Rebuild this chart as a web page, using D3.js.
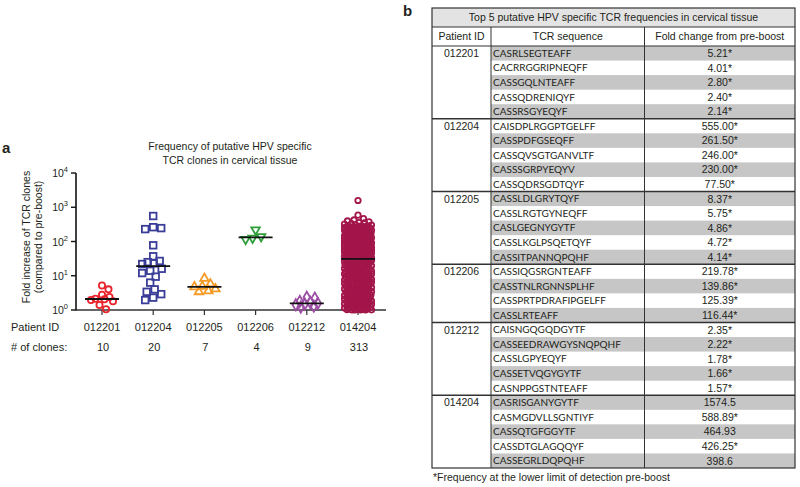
<!DOCTYPE html>
<html><head><meta charset="utf-8">
<script src="https://cdn.jsdelivr.net/npm/d3@7"></script>
<style>
body{margin:0;background:#fff;}
svg{display:block;font-family:"Liberation Sans",Arial,Helvetica,sans-serif;}
</style>
</head><body>
<svg id="c" width="800" height="487"></svg>
<script>
// ---------------- DATA ----------------
const patientIds = ["012201","012204","012205","012206","012212","014204"];
const cloneCounts = [10, 20, 7, 4, 9, 313];
const yTickExps = [0, 1, 2, 3, 4];

const vals012201 = [5.21, 4.01, 2.80, 2.40, 2.14, 2.05, 1.95, 1.8, 1.4, 1.05];
const vals012204 = [555, 261.5, 246, 230, 77.5, 37, 27, 25, 23, 22, 16, 14, 12, 9.4, 6.3, 4.0, 3.4, 2.9, 2.3, 1.95];
const vals012205 = [8.37, 5.75, 4.86, 4.72, 4.14, 3.6, 3.4];
const vals012206 = [219.78, 139.86, 125.39, 116.44];
const vals012212 = [2.35, 2.22, 1.78, 1.66, 1.57, 1.5, 1.42, 1.3, 1.22];
const vals014204 = [
  1574.5, 588.89, 464.93, 426.25, 398.6,
  376, 358, 349, 331, 324, 306, 301, 288, 286, 279,
  268, 266, 252, 254, 249, 243, 235, 232, 227, 221,
  219, 212, 211, 204, 203, 197, 195, 189, 188, 182,
  181, 176, 176, 170, 168, 163, 162, 159, 157, 153,
  151, 148, 146, 143, 141, 140, 136, 135, 132, 129,
  127, 126, 123, 120, 119, 118, 115, 112, 111, 108,
  107, 106, 104, 101, 100, 99, 97, 96, 94, 92,
  91, 90, 88, 87, 85, 84, 83, 81, 80, 79,
  78, 77, 75, 74, 73, 72, 71, 70, 69, 67.5,
  66.6, 65.2, 64.5, 63.8, 62.4, 61.6, 60.3, 59.7, 58.5, 57.9,
  57.1, 56, 55.2, 54.6, 53.5, 52.4, 51.9, 51.2, 50.3, 49.4,
  48.8, 48.1, 47.2, 46.6, 45.7, 45.2, 44.6, 43.8, 43.3, 42.5,
  41.7, 41.3, 40.6, 40.1, 39.3, 38.9, 38.2, 37.7, 37.1, 36.4,
  36.1, 35.5, 34.8, 34.5, 33.8, 33.4, 32.9, 32.3, 31.9, 31.6,
  286, 249, 214, 175, 144, 117, 95, 82, 71, 60, 31.3,
  31.0,
  30.5, 29.6, 29.2, 28.4, 27.9, 27.1, 26.7, 25.9, 25.5, 24.7,
  24.4, 23.6, 23.3, 22.5, 22.2, 21.5, 21.2, 20.5, 20.3, 19.6,
  19.4, 18.7, 18.5, 17.9, 17.7, 17.1, 16.9, 16.3, 16.1, 15.6,
  15.4, 14.9, 14.7, 14.2, 14.1, 13.6, 13.4, 12.9, 12.8, 12.4,
  12.3, 11.8, 11.7, 11.3, 11.2, 10.8, 10.7, 10.3, 10.2, 9.8,
  9.7, 9.4, 9.3, 9.0, 8.9, 8.6, 8.5, 8.2, 8.1, 7.85,
  7.75, 7.5, 7.4, 7.2, 7.1, 6.85, 6.75, 6.55, 6.45, 6.25,
  6.2, 6.0, 5.9, 5.7, 5.65, 5.45, 5.4, 5.2, 5.15, 5.0,
  4.95, 4.78, 4.72, 4.55, 4.5, 4.35, 4.3, 4.15, 4.12, 3.98,
  3.95, 3.82, 3.77, 3.65, 3.6, 3.5, 3.44, 3.33, 3.29, 3.18,
  3.15, 3.05, 3.0, 2.91, 2.88, 2.78, 2.75, 2.66, 2.62, 2.54,
  2.51, 2.43, 2.4, 2.32, 2.29, 2.22, 2.19, 2.12, 2.1, 2.03,
  2.01, 1.94, 1.92, 1.86, 1.83, 1.77, 1.75, 1.69, 1.67, 1.62,
  1.6, 1.55, 1.53, 1.48, 1.46, 1.42, 1.4, 1.36, 1.34, 1.3,
  1.28, 1.24, 1.22, 1.19, 1.17, 1.14, 1.12, 1.09, 1.07, 1.04,
  1.03, 1.01, 1.0, 1.0, 1.0, 1.0
];
const seriesValues = [vals012201, vals012204, vals012205, vals012206, vals012212, vals014204];

// Table data
const tablePatients = ["012201","012204","012205","012206","012212","014204"];
const tcr012201 = ["CASRLSEGTEAFF","CACRRGGRIPNEQFF","CASSGQLNTEAFF","CASSQDRENIQYF","CASSRSGYEQYF"];
const fold012201 = ["5.21*","4.01*","2.80*","2.40*","2.14*"];
const tcr012204 = ["CAISDPLRGGPTGELFF","CASSPDFGSEQFF","CASSQVSGTGANVLTF","CASSSGRPYEQYV","CASSQDRSGDTQYF"];
const fold012204 = ["555.00*","261.50*","246.00*","230.00*","77.50*"];
const tcr012205 = ["CASSLDLGRYTQYF","CASSLRGTGYNEQFF","CASLGEGNYGYTF","CASSLKGLPSQETQYF","CASSITPANNQPQHF"];
const fold012205 = ["8.37*","5.75*","4.86*","4.72*","4.14*"];
const tcr012206 = ["CASSIQGSRGNTEAFF","CASSTNLRGNNSPLHF","CASSPRTPDRAFIPGELFF","CASSLRTEAFF"];
const fold012206 = ["219.78*","139.86*","125.39*","116.44*"];
const tcr012212 = ["CAISNGQGQDGYTF","CASSEEDRAWGYSNQPQHF","CASSLGPYEQYF","CASSETVQGYGYTF","CASNPPGSTNTEAFF"];
const fold012212 = ["2.35*","2.22*","1.78*","1.66*","1.57*"];
const tcr014204 = ["CASRISGANYGYTF","CASMGDVLLSGNTIYF","CASSQTGFGGYTF","CASSDTGLAGQQYF","CASSEGRLDQPQHF"];
const fold014204 = ["1574.5","588.89*","464.93","426.25*","398.6"];
const tcrGroups = [tcr012201, tcr012204, tcr012205, tcr012206, tcr012212, tcr014204];
const foldGroups = [fold012201, fold012204, fold012205, fold012206, fold012212, fold014204];

// ---------------- STYLE ----------------
const colors = ["#e8232b", "#3a3e98", "#f59b24", "#2e9f3a", "#9b4ea4", "#a3164a"];
const shapes = ["circle", "square", "triUp", "triDown", "diamond", "circle"];
const textCol = "#231f20";

const svg = d3.select("#c");

// ---------------- PANEL A ----------------
const x = d3.scalePoint().domain(patientIds).range([102, 358]);
const y = d3.scaleLog().domain([1, 10000]).range([310, 173]);

svg.append("text").attr("x", 2).attr("y", 153).attr("font-size", 15).attr("font-weight", "bold")
  .attr("fill", textCol).text("a");

const title = svg.append("text").attr("text-anchor", "middle").attr("font-size", 10.5).attr("fill", textCol);
title.append("tspan").attr("x", 230).attr("y", 150).text("Frequency of putative HPV specific");
title.append("tspan").attr("x", 230).attr("y", 164).text("TCR clones in cervical tissue");

// y label
[["Fold increase of TCR clones", 27], ["(compared to pre-boost)", 39]].forEach(([t, px]) => {
  svg.append("text").attr("transform", `translate(${px},237) rotate(-90)`).attr("text-anchor", "middle")
    .attr("dominant-baseline", "middle").attr("font-size", 10.5).attr("fill", textCol).text(t);
});

// axes
const axX = 76;
svg.append("line").attr("x1", axX).attr("x2", axX).attr("y1", y(10000)).attr("y2", y(1) + 0.5)
  .attr("stroke", "#111").attr("stroke-width", 1.6);
svg.append("line").attr("x1", axX).attr("x2", 386).attr("y1", y(1)).attr("y2", y(1))
  .attr("stroke", "#333").attr("stroke-width", 1.4);
yTickExps.forEach(e => {
  const v = Math.pow(10, e);
  svg.append("line").attr("x1", axX - 5).attr("x2", axX).attr("y1", y(v)).attr("y2", y(v))
    .attr("stroke", "#111").attr("stroke-width", 1.4);
  const t = svg.append("text").attr("x", axX - 8).attr("y", y(v) + 4).attr("text-anchor", "end")
    .attr("font-size", 10.5).attr("fill", textCol);
  t.append("tspan").text("10");
  t.append("tspan").attr("dy", -5).attr("font-size", 7.5).text(e);
});
patientIds.forEach((id, i) => {
  svg.append("line").attr("x1", x(id)).attr("x2", x(id)).attr("y1", y(1)).attr("y2", y(1) + 5)
    .attr("stroke", "#333").attr("stroke-width", 1.2);
  svg.append("text").attr("x", x(id)).attr("y", 331).attr("text-anchor", "middle").attr("font-size", 11)
    .attr("fill", textCol).text(id);
  svg.append("text").attr("x", x(id) + 1).attr("y", 351).attr("text-anchor", "middle").attr("font-size", 11)
    .attr("fill", textCol).text(cloneCounts[i]);
});
svg.append("text").attr("x", 11).attr("y", 331).attr("font-size", 11).attr("fill", textCol).text("Patient ID");
svg.append("text").attr("x", 11).attr("y", 351).attr("font-size", 11).attr("fill", textCol).text("# of clones:");

// swarm layout
function swarm(values, cx, D, maxHalf) {
  const sorted = values.slice().sort((a, b) => b - a);
  const placed = [];
  const out = [];
  const step = 0.5;
  const nSteps = Math.ceil(maxHalf / step);
  for (const v of sorted) {
    const py = y(v);
    let best = 0, bestScore = -1;
    const near = placed.filter(p => Math.abs(p.y - py) < D);
    for (let k = 0; k <= 2 * nSteps; k++) {
      const off = (k % 2 === 1 ? 1 : -1) * Math.ceil(k / 2) * step;
      let md = Infinity;
      for (const p of near) { const d = Math.hypot(p.x - off, p.y - py); if (d < md) md = d; }
      if (md >= D) { best = off; bestScore = Infinity; break; }
      if (md > bestScore) { bestScore = md; best = off; }
    }
    placed.push({ x: best, y: py });
    out.push({ v, x: cx + best, y: py });
  }
  return out;
}

const markerSize = [6.2, 6.6, 7.2, 7.2, 7.0, 5.4];
const spreadD = [7.5, 8.0, 8.0, 8.5, 8.0, 6.2];
const maxHalf = [11, 11, 11, 10, 11, 13.5];

function drawMarker(g, shape, cx, cy, s, col, sw) {
  if (shape === "circle") {
    g.append("circle").attr("cx", cx).attr("cy", cy).attr("r", s / 2)
      .attr("fill", "none").attr("stroke", col).attr("stroke-width", sw);
  } else if (shape === "square") {
    g.append("rect").attr("x", cx - s / 2).attr("y", cy - s / 2).attr("width", s).attr("height", s)
      .attr("fill", "none").attr("stroke", col).attr("stroke-width", sw);
  } else {
    const sym = shape === "diamond" ? d3.symbolDiamond : d3.symbolTriangle;
    const area = shape === "diamond" ? s * s * 0.75 : s * s * 0.6;
    const rot = shape === "triDown" ? 180 : 0;
    g.append("path").attr("d", d3.symbol().type(sym).size(area)())
      .attr("transform", `translate(${cx},${cy}) rotate(${rot})`)
      .attr("fill", "none").attr("stroke", col).attr("stroke-width", sw);
  }
}

patientIds.forEach((id, i) => {
  const g = svg.append("g");
  const pts = swarm(seriesValues[i], x(id), spreadD[i], maxHalf[i]);
  pts.forEach(p => drawMarker(g, shapes[i], p.x, p.y, markerSize[i], colors[i], i === 5 ? 1.8 : 1.8));
});
patientIds.forEach((id, i) => {
  const m = d3.median(seriesValues[i]);
  svg.append("line").attr("x1", x(id) - 17).attr("x2", x(id) + 17).attr("y1", y(m)).attr("y2", y(m))
    .attr("stroke", "#111").attr("stroke-width", 1.8);
});

// ---------------- PANEL B (table) ----------------
svg.append("text").attr("x", 403).attr("y", 16).attr("font-size", 15).attr("font-weight", "bold")
  .attr("fill", textCol).text("b");

const tL = 432, tR = 795, c1 = 491, c2 = 644.5;
const tTop = 8, titleBot = 27, headBot = 46, tBot = 468;
const rows = [];
tcrGroups.forEach((g, gi) => g.forEach((s, ri) => rows.push({ gi, ri, seq: s, fold: foldGroups[gi][ri] })));
const rowY = d3.scaleLinear().domain([0, rows.length]).range([headBot, tBot]);
const rh = rowY(1) - rowY(0);

const tb = svg.append("g");
tb.append("rect").attr("x", tL).attr("y", tTop).attr("width", tR - tL).attr("height", titleBot - tTop).attr("fill", "#e3e3e3");
rows.forEach((r, i) => {
  if (i % 2 === 0) {
    tb.append("rect").attr("x", c1).attr("y", rowY(i)).attr("width", tR - c1).attr("height", rh).attr("fill", "#c6c6c6");
  }
  tb.append("text").attr("x", c1 + 2).attr("y", rowY(i) + rh / 2 + 3.6).attr("font-family", "Lato, 'Open Sans', sans-serif")
    .attr("font-size", 10).attr("fill", textCol).text(r.seq);
  tb.append("text").attr("x", (c2 + tR) / 2).attr("y", rowY(i) + rh / 2 + 3.8).attr("text-anchor", "middle")
    .attr("font-size", 10.5).attr("fill", textCol).text(r.fold);
  if (r.ri === 0) {
    tb.append("text").attr("x", (tL + c1) / 2).attr("y", rowY(i) + rh / 2 + 3.8).attr("text-anchor", "middle")
      .attr("font-size", 10.5).attr("fill", textCol).text(tablePatients[r.gi]);
    if (i > 0) tb.append("line").attr("x1", tL).attr("x2", tR).attr("y1", rowY(i)).attr("y2", rowY(i))
      .attr("stroke", "#333").attr("stroke-width", 1.4);
  }
});
tb.append("text").attr("x", (tL + tR) / 2).attr("y", (tTop + titleBot) / 2 + 3.8).attr("text-anchor", "middle")
  .attr("font-size", 10.5).attr("fill", textCol).text("Top 5 putative HPV specific TCR frequencies in cervical tissue");
[["Patient ID", (tL + c1) / 2], ["TCR sequence", (c1 + c2) / 2], ["Fold change from pre-boost", (c2 + tR) / 2]].forEach(([t, cx]) => {
  tb.append("text").attr("x", cx).attr("y", (titleBot + headBot) / 2 + 3.8).attr("text-anchor", "middle")
    .attr("font-size", 10.5).attr("fill", textCol).text(t);
});
// lines
tb.append("rect").attr("x", tL).attr("y", tTop).attr("width", tR - tL).attr("height", tBot - tTop)
  .attr("fill", "none").attr("stroke", "#333").attr("stroke-width", 1.2);
tb.append("line").attr("x1", tL).attr("x2", tR).attr("y1", titleBot).attr("y2", titleBot).attr("stroke", "#333").attr("stroke-width", 1.2);
tb.append("line").attr("x1", tL).attr("x2", tR).attr("y1", headBot).attr("y2", headBot).attr("stroke", "#333").attr("stroke-width", 1.2);
[c1, c2].forEach(cx => tb.append("line").attr("x1", cx).attr("x2", cx).attr("y1", titleBot).attr("y2", tBot)
  .attr("stroke", "#333").attr("stroke-width", 1));

svg.append("text").attr("x", 433).attr("y", 481).attr("font-size", 10.5).attr("fill", textCol)
  .text("*Frequency at the lower limit of detection pre-boost");
</script>
</body></html>
